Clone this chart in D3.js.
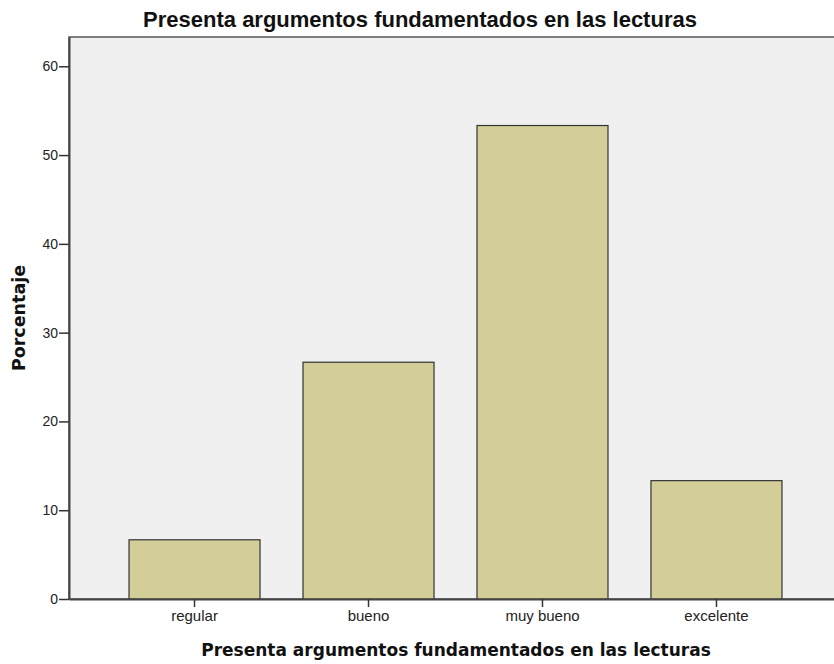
<!DOCTYPE html>
<html>
<head>
<meta charset="utf-8">
<script src="https://cdn.jsdelivr.net/npm/d3@7"></script>
<style>
  body { margin: 0; background: #ffffff; }
  svg { display: block; font-family: "Liberation Sans", Arial, sans-serif; }
</style>
</head>
<body>
<svg id="chart" width="834" height="664"></svg>
<script>
// values
var categories = ["regular", "bueno", "muy bueno", "excelente"];
var percents = [6.67, 26.67, 53.33, 13.33];
var yTicks = [0, 10, 20, 30, 40, 50, 60];

var titleText = "Presenta argumentos fundamentados en las lecturas";
var xLabel = "Presenta argumentos fundamentados en las lecturas";
var yLabel = "Porcentaje";

var svg = d3.select("#chart");
// plot frame runs past the right edge, like the cropped original
var plotLeft = 69, plotRight = 842, plotTop = 37, plotBottom = 599;

var x = d3.scaleBand().domain(categories).range([plotLeft, plotRight])
  .paddingInner(0.247).paddingOuter(0.345);
var y = d3.scaleLinear().domain([0, 63.3]).range([plotBottom, plotTop]);

// plot background
svg.append("rect")
  .attr("x", plotLeft).attr("y", plotTop)
  .attr("width", plotRight - plotLeft).attr("height", plotBottom - plotTop)
  .attr("fill", "#f0f0f0")
  .attr("stroke", "#555").attr("stroke-width", 1.5);

// bars
svg.selectAll(".bar")
  .data(percents)
  .enter()
  .append("rect")
    .attr("class", "bar")
    .attr("x", function(d, i) { return x(categories[i]); })
    .attr("y", function(d) { return y(d); })
    .attr("width", x.bandwidth())
    .attr("height", function(d) { return plotBottom - y(d); })
    .attr("fill", "#d3ce97")
    .attr("stroke", "#333")
    .attr("stroke-width", 1.2);

// y axis
var yAxis = svg.append("g")
  .attr("transform", "translate(" + plotLeft + ",0)")
  .call(d3.axisLeft(y).tickValues(yTicks).tickSize(10).tickPadding(1).tickSizeOuter(0));
yAxis.select(".domain").attr("stroke", "#444").attr("stroke-width", 2);
yAxis.selectAll(".tick line").attr("stroke", "#333").attr("stroke-width", 1.5);
yAxis.selectAll(".tick text").attr("font-size", 14).attr("fill", "#222");

// x axis
var xAxis = svg.append("g")
  .attr("transform", "translate(0," + plotBottom + ")")
  .call(d3.axisBottom(x).tickSize(8).tickPadding(3).tickSizeOuter(0));
xAxis.select(".domain").attr("stroke", "#444").attr("stroke-width", 2);
xAxis.selectAll(".tick line").attr("stroke", "#333").attr("stroke-width", 1.5);
xAxis.selectAll(".tick text").attr("font-size", 15).attr("fill", "#222");

// title and axis labels
svg.append("text")
  .attr("x", 420).attr("y", 27)
  .attr("text-anchor", "middle")
  .attr("font-size", 22).attr("font-weight", "bold")
  .attr("fill", "#111")
  .text(titleText);

svg.append("text")
  .attr("x", 456).attr("y", 656)
  .attr("text-anchor", "middle")
  .attr("font-family", "DejaVu Sans")
  .attr("font-size", 17).attr("font-weight", "bold")
  .attr("fill", "#111")
  .text(xLabel);

svg.append("text")
  .attr("transform", "translate(25,318) rotate(-90)")
  .attr("text-anchor", "middle")
  .attr("font-family", "DejaVu Sans")
  .attr("font-size", 17.5).attr("font-weight", "bold")
  .attr("fill", "#111")
  .text(yLabel);
</script>
</body>
</html>
